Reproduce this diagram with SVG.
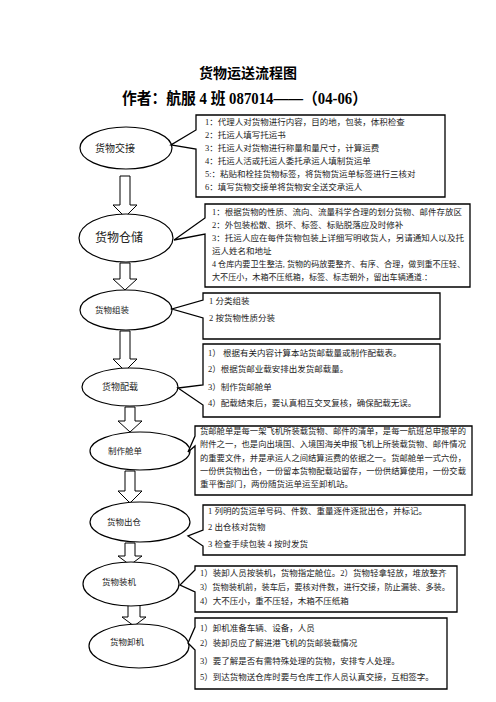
<svg xmlns="http://www.w3.org/2000/svg" width="496" height="702" viewBox="0 0 496 702">
<defs>
<style>
.t{font-family:"Liberation Serif","Noto Sans CJK SC",serif;fill:#222;}
.title{font-family:"Liberation Serif","Noto Sans CJK SC",serif;font-weight:bold;fill:#000;}
.b{font-size:8.5px;}
.node{fill:#fff;stroke:#000;stroke-width:1.2;}
.box{fill:#fff;stroke:#000;stroke-width:1.3;}
.arr{fill:#fff;stroke:#000;stroke-width:1;}
</style>
</defs>
<rect width="496" height="702" fill="#fff"/>
<text class="title" x="248" y="78" font-size="14" text-anchor="middle">货物运送流程图</text>
<text class="title" x="122" y="104" font-size="16" textLength="245" lengthAdjust="spacingAndGlyphs">作者：航服 4 班  087014——（04-06）</text>

<g id="connectors">
<polygon class="arr" points="120,176 130,176 130,205 137,205 125,217 113,205 120,205"/>
<polygon class="arr" points="120,263 130,263 130,279 137,279 125,290 113,279 120,279"/>
<polygon class="arr" points="120,331 130,331 130,359 137,359 125,371 113,359 120,359"/>
<polygon class="arr" points="125,407 135,407 135,421 142,421 130,432 118,421 125,421"/>
<polygon class="arr" points="125,471 135,471 135,491 142,491 130,503 118,491 125,491"/>
<polygon class="arr" points="125,543 135,543 135,556 142,556 130,565 118,556 125,556"/>
<polygon class="arr" points="128,604 140,604 140,617 146,617 134,626 122,617 128,617"/>
</g>

<g id="n1">
<ellipse class="node" cx="126" cy="148" rx="46" ry="21"/>
<text class="t" x="95" y="152" font-size="10">货物交接</text>
</g>
<g id="c1">
<path class="box" d="M196,130 L196,115 L445,115 L445,197 L196,197 L196,149 L171,145 Z"/>
<text class="t b" x="205" y="125">1：代理人对货物进行内容，目的地，包装，体积检查</text>
<text class="t b" x="205" y="138">2：托运人填写托运书</text>
<text class="t b" x="205" y="151">3：托运人对货物进行称量和量尺寸，计算运费</text>
<text class="t b" x="205" y="164">4：托运人活或托运人委托承运人填制货运单</text>
<text class="t b" x="205" y="177">5:：粘贴和栓挂货物标签，将货物货运单标签进行三核对</text>
<text class="t b" x="205" y="190">6：填写货物交接单将货物安全送交承运人</text>
</g>

<g id="n2">
<ellipse class="node" cx="126" cy="238" rx="47" ry="24"/>
<text class="t" x="95" y="242" font-size="12">货物仓储</text>
</g>
<g id="c2">
<path class="box" d="M205,218 L205,204 L470,204 L470,287 L205,287 L205,234 L174,240 Z"/>
<text class="t b" x="212" y="215" textLength="250" lengthAdjust="spacingAndGlyphs">1：根据货物的性质、流向、流量科学合理的划分货物、邮件存放区</text>
<text class="t b" x="212" y="228">2：外包装松散、损坏、标签、标贴脱落应及时修补</text>
<text class="t b" x="212" y="241" textLength="252" lengthAdjust="spacingAndGlyphs">3：托运人应在每件货物包装上详细写明收货人，另请通知人以及托</text>
<text class="t b" x="212" y="254">运人姓名和地址</text>
<text class="t b" x="212" y="267" textLength="253" lengthAdjust="spacingAndGlyphs">4 仓库内要卫生整洁, 货物的码放要整齐、有序、合理，做到重不压轻、</text>
<text class="t b" x="212" y="280" textLength="220" lengthAdjust="spacingAndGlyphs">大不压小，木箱不压纸箱，标签、标志朝外，留出车辆通道.：</text>
</g>

<g id="n3">
<ellipse class="node" cx="126" cy="310" rx="46" ry="20"/>
<text class="t" x="95" y="313" font-size="8.5">货物组装</text>
</g>
<g id="c3">
<path class="box" d="M203,300 L203,293 L440,293 L440,339 L203,339 L203,318 L172,309 Z"/>
<text class="t b" x="209" y="304">1 分类组装</text>
<text class="t b" x="209" y="321">2 按货物性质分装</text>
</g>

<g id="n4">
<ellipse class="node" cx="130" cy="387" rx="48" ry="19"/>
<text class="t" x="102" y="390" font-size="9">货物配载</text>
</g>
<g id="c4">
<path class="box" d="M203,385 L203,344 L440,344 L440,417 L203,417 L203,405 L178,388 Z"/>
<text class="t b" x="208" y="356">1） 根据有关内容计算本站货邮载量或制作配载表。</text>
<text class="t b" x="208" y="372">2）根据货邮业载安排出发货邮载量。</text>
<text class="t b" x="208" y="390">3）制作货邮舱单</text>
<text class="t b" x="208" y="406">4）配载结束后，要认真相互交叉复核，确保配载无误。</text>
</g>

<g id="n5">
<ellipse class="node" cx="140" cy="451" rx="50" ry="19"/>
<text class="t" x="108" y="454" font-size="8.5">制作舱单</text>
</g>
<g id="c5">
<path class="box" d="M195,436 L195,426 L472,426 L472,495 L195,495 L195,446 L188,452 Z"/>
<text class="t b" x="200" y="434" textLength="266" lengthAdjust="spacingAndGlyphs">货邮舱单是每一架飞机所装载货物、邮件的清单，是每一航班总申报单的</text>
<text class="t b" x="200" y="447" textLength="266" lengthAdjust="spacingAndGlyphs">附件之一，也是向出境国、入境国海关申报飞机上所装载货物、邮件情况</text>
<text class="t b" x="200" y="461" textLength="266" lengthAdjust="spacingAndGlyphs">的重要文件，并是承运人之间结算运费的依据之一。货邮舱单一式六份，</text>
<text class="t b" x="200" y="474" textLength="266" lengthAdjust="spacingAndGlyphs">一份供货物出仓，一份留本货物配载站留存，一份供结算使用，一份交载</text>
<text class="t b" x="200" y="487">重平衡部门，两份随货运单运至卸机站。</text>
</g>

<g id="n6">
<ellipse class="node" cx="140" cy="522" rx="50" ry="20"/>
<text class="t" x="107" y="525" font-size="8.5">货物出仓</text>
</g>
<g id="c6">
<path class="box" d="M203,530 L203,505 L465,505 L465,555 L203,555 L203,546 L188,536 Z"/>
<text class="t b" x="208" y="514">1 列明的货运单号码、件数、重量逐件逐批出仓，并标记。</text>
<text class="t b" x="208" y="530">2 出仓核对货物</text>
<text class="t b" x="208" y="547">3 检查手续包装  4 按时发货</text>
</g>

<g id="n7">
<ellipse class="node" cx="131" cy="584" rx="48" ry="22"/>
<text class="t" x="102" y="585" font-size="8.5">货物装机</text>
</g>
<g id="c7">
<path class="box" d="M195,570 L195,566 L457,566 L457,612 L195,612 L195,592 L180,585 Z"/>
<text class="t b" x="200" y="576">1）装卸人员按装机，货物指定舱位。2）货物轻拿轻放，堆放整齐</text>
<text class="t b" x="200" y="590" textLength="250" lengthAdjust="spacingAndGlyphs">3）货物装机前，装车后，要核对件数，进行交接，防止漏装、多装。</text>
<text class="t b" x="200" y="604">4）大不压小，重不压轻，木箱不压纸箱</text>
</g>

<g id="n8">
<ellipse class="node" cx="139" cy="646" rx="50" ry="22"/>
<text class="t" x="110" y="645" font-size="8.5">货物卸机</text>
</g>
<g id="c8">
<path class="box" d="M195,627 L195,618 L447,618 L447,689 L195,689 L195,650 L188,643 Z"/>
<text class="t b" x="200" y="631">1）卸机准备车辆、设备，人员</text>
<text class="t b" x="200" y="646">2）装卸员应了解进港飞机的货邮装载情况</text>
<text class="t b" x="200" y="664">3）要了解是否有需特殊处理的货物，安排专人处理。</text>
<text class="t b" x="200" y="680">5）到达货物送仓库时要与仓库工作人员认真交接，互相签字。</text>
</g>
</svg>
